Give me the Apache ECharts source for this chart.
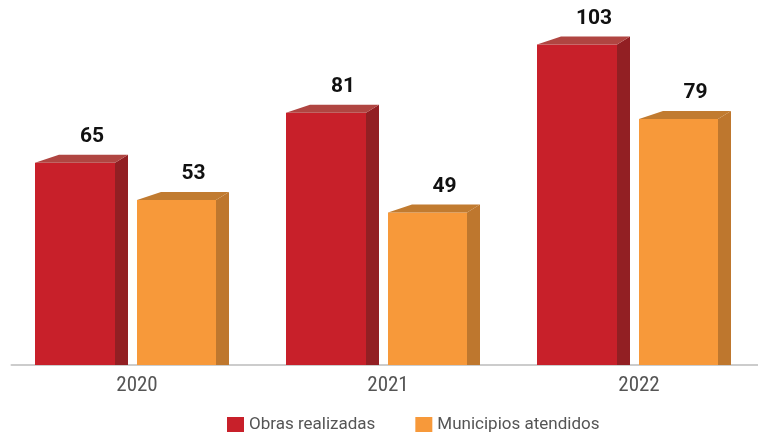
<!DOCTYPE html>
<html>
<head>
<meta charset="utf-8">
<script src="https://cdn.jsdelivr.net/npm/echarts@6/dist/echarts.min.js"></script>
<style>
html,body{margin:0;padding:0;background:#fff;overflow:hidden;}
#wrap{width:758px;height:433px;overflow:hidden;}
#chart{width:766px;height:433px;}
</style>
</head>
<body>
<div id="wrap"><div id="chart"></div></div>
<script>
// ---- data ----
const categories = ['2020', '2021', '2022'];
const obrasRealizadas = [65, 81, 103];
const municipiosAtendidos = [53, 49, 79];
const seriesNames = ['Obras realizadas', 'Municipios atendidos'];

// ---- style ----
const palettes = [
  { front: '#C8202A', side: '#921F23', top: '#B04541', offset: -102, width: 80 },
  { front: '#F7993A', side: '#BE772E', top: '#C17B30', offset: 0, width: 79 }
];
const DX_L = 24, DX_R = 13, DY = 8;

function make3DRender(p) {
  return function (params, api) {
    const ci = api.value(0);
    const v = api.value(1);
    const top = api.coord([ci, v]);
    const base = api.coord([ci, 0]);
    const x0 = top[0] + p.offset;
    const x1 = x0 + p.width;
    const yt = top[1];
    const yb = base[1];
    return {
      type: 'group',
      children: [
        { type: 'rect', shape: { x: x0, y: yt, width: p.width, height: yb - yt }, style: { fill: p.front } },
        { type: 'polygon', shape: { points: [[x1, yt], [x1 + DX_R, yt - DY], [x1 + DX_R, yb], [x1, yb]] }, style: { fill: p.side } },
        { type: 'polygon', shape: { points: [[x0, yt], [x1, yt], [x1 + DX_R, yt - DY], [x0 + DX_L, yt - DY]] }, style: { fill: p.top } },
        { type: 'text', style: { text: String(v), x: x0 + p.width / 2 + 17, y: yt - 26, align: 'center', verticalAlign: 'middle', font: 'bold 21px Roboto, "Liberation Sans", sans-serif', fill: '#111' } }
      ]
    };
  };
}

const chart = echarts.init(document.getElementById('chart'));
chart.setOption({
  animation: false,
  backgroundColor: '#fff',
  grid: { left: 11.5, right: 1.5, top: 22.6, height: 342.4 },
  xAxis: {
    type: 'category',
    data: categories,
    axisTick: { show: false },
    axisLine: { lineStyle: { color: '#cccccc', width: 2 } },
    axisLabel: { color: '#555', fontSize: 21, fontFamily: '"Roboto Condensed", sans-serif', margin: 10 }
  },
  yAxis: { type: 'value', min: 0, max: 110, show: false },
  legend: {
    left: 222, top: 411,
    itemWidth: 17, itemHeight: 15, itemGap: 40,
    icon: 'rect',
    textStyle: { color: '#555', fontSize: 17, fontFamily: 'Roboto, sans-serif' },
    data: seriesNames
  },
  series: [
    {
      name: seriesNames[0], type: 'custom',
      itemStyle: { color: palettes[0].front },
      renderItem: make3DRender(palettes[0]),
      encode: { x: 0, y: 1 },
      data: categories.map((c, i) => [i, obrasRealizadas[i]])
    },
    {
      name: seriesNames[1], type: 'custom',
      itemStyle: { color: palettes[1].front },
      renderItem: make3DRender(palettes[1]),
      encode: { x: 0, y: 1 },
      data: categories.map((c, i) => [i, municipiosAtendidos[i]])
    }
  ]
});
</script>
</body>
</html>
